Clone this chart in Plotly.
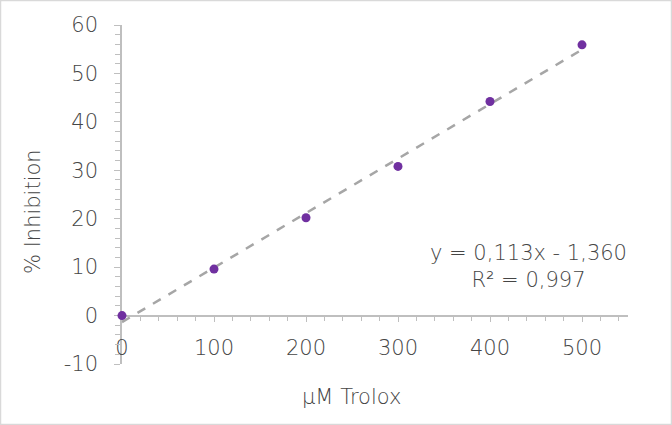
import numpy as np
import plotly.graph_objects as go

# Data
trolox_um = [0, 100, 200, 300, 400, 500]
inhibition_pct = [0.0, 9.6, 20.2, 30.8, 44.2, 55.9]

x_tick_vals = [0, 100, 200, 300, 400, 500]
x_tick_text = ["0", "100", "200", "300", "400", "500"]
y_tick_vals = [-10, 0, 10, 20, 30, 40, 50, 60]
y_tick_text = ["-10", "0", "10", "20", "30", "40", "50", "60"]

x_title = "μM Trolox"
y_title = "% Inhibition"
eq_text = "y = 0,113x - 1,360<br>R² = 0,997"

# Linear trendline from the data
slope, intercept = np.polyfit(trolox_um, inhibition_pct, 1)
trend_x = np.array([trolox_um[0], trolox_um[-1]], dtype=float)
trend_y = slope * trend_x + intercept

FONT = "'DejaVu Sans', sans-serif"
TXT = "#454545"
AX = "#bfbfbf"
FS = 21
WT = 300

fig = go.Figure()
fig.add_trace(go.Scatter(
    x=trend_x, y=trend_y, mode="lines",
    line=dict(color="#a6a6a6", width=2.5, dash="dash"),
    showlegend=False, hoverinfo="skip", cliponaxis=False,
))
fig.add_trace(go.Scatter(
    x=trolox_um, y=inhibition_pct, mode="markers",
    marker=dict(color="#7030A0", size=9),
    showlegend=False, cliponaxis=False,
))

L, R, T, B = 122, 44, 25, 61
W, H = 672, 425
pw, ph = W - L - R, H - T - B

fig.update_layout(
    width=W, height=H,
    margin=dict(l=L, r=R, t=T, b=B, pad=0),
    paper_bgcolor="white", plot_bgcolor="white",
    font=dict(family=FONT, color=TXT, size=FS, weight=WT),
    xaxis=dict(
        range=[0, 550], showgrid=False, zeroline=False,
        showline=True, linecolor=AX, linewidth=1.5, layer="below traces",
        anchor="free", position=10 / 70,
        tickmode="array", tickvals=x_tick_vals, ticktext=x_tick_text,
        ticks="outside", ticklen=6, tickcolor=AX, tickwidth=1.2,
        minor=dict(dtick=20, ticks="outside", ticklen=5, tickcolor=AX, tickwidth=1.2, showgrid=False),
        ticklabelstandoff=7,
        tickfont=dict(size=FS, color=TXT, weight=WT),
    ),
    yaxis=dict(
        range=[-10, 60], showgrid=False, zeroline=False,
        showline=True, linecolor=AX, linewidth=1.5, layer="below traces",
        tickmode="array", tickvals=y_tick_vals, ticktext=y_tick_text,
        ticks="outside", ticklen=6, tickcolor=AX, tickwidth=1.2,
        minor=dict(dtick=2, ticks="outside", ticklen=5, tickcolor=AX, tickwidth=1.2, showgrid=False),
        ticklabelstandoff=12,
        tickfont=dict(size=FS, color=TXT, weight=WT),
    ),
)

# Axis titles (placed as in the reference, slightly off-centre)
fig.add_annotation(
    x=(351 - L) / pw, y=1 - (397 - T) / ph, xref="paper", yref="paper",
    xanchor="center", yanchor="middle",
    text=x_title, showarrow=False, font=dict(size=FS, color=TXT, family=FONT, weight=WT),
)
fig.add_annotation(
    x=(33 - L) / pw, y=1 - (212 - T) / ph, xref="paper", yref="paper",
    xanchor="center", yanchor="middle",
    text=y_title, textangle=-90, showarrow=False,
    font=dict(size=FS, color=TXT, family=FONT, weight=WT),
)

fig.add_annotation(
    x=442, y=10.1, xref="x", yref="y", text=eq_text, showarrow=False,
    xanchor="center", yanchor="middle",
    align="center", font=dict(size=FS, color=TXT, family=FONT, weight=WT),
)

# Chart border
fig.add_shape(
    type="rect", xref="paper", yref="paper",
    x0=-(L - 0.5) / pw, x1=1 + (R - 0.5) / pw,
    y0=-(B - 0.5) / ph, y1=1 + (T - 0.5) / ph,
    line=dict(color="#d9d9d9", width=1.5), layer="below",
)

fig.write_html("out.html", config={"displayModeBar": False},
               post_script="document.body.style.margin='0';")
